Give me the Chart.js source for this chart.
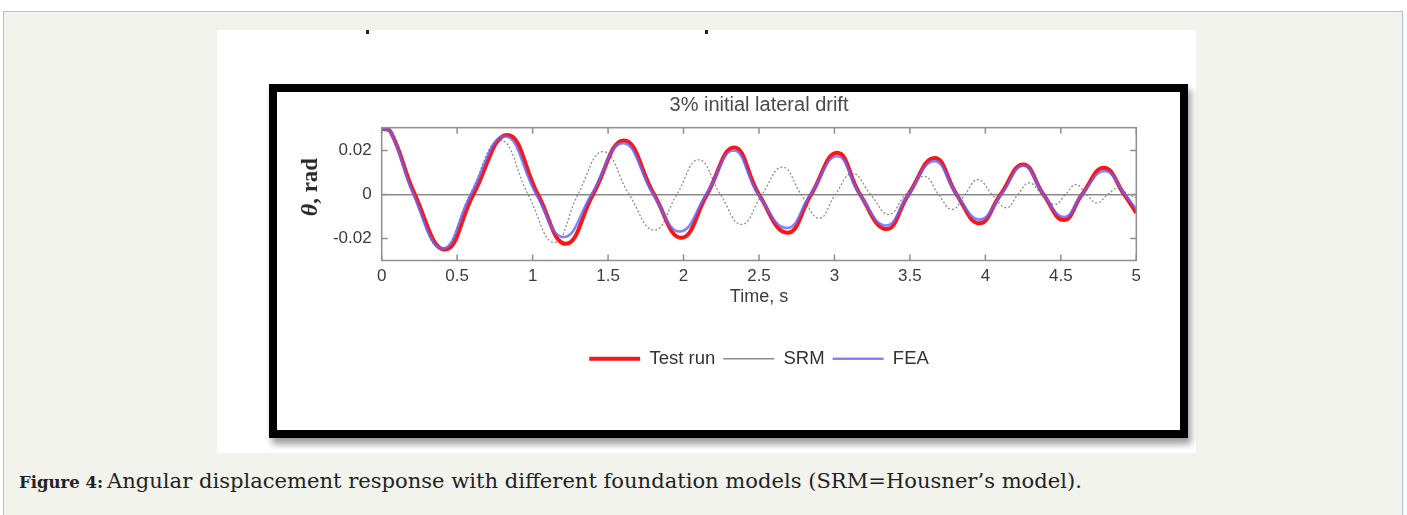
<!DOCTYPE html>
<html>
<head>
<meta charset="utf-8">
<script src="https://cdn.jsdelivr.net/npm/chart.js@4.4.1/dist/chart.umd.min.js"></script>
<style>
  html, body { margin:0; padding:0; background:#ffffff; width:1407px; height:515px; overflow:hidden; }
  #panel { position:absolute; left:3px; top:11px; width:1398px; height:520px; background:#f3f3ee;
           border:1px solid #a8c3e6; border-bottom:none; }
  #pic { position:absolute; left:217px; top:30px; width:979px; height:423px; background:#ffffff; }
  #frame { position:absolute; left:269px; top:84px; width:903px; height:338px; border:8px solid #000;
           box-shadow: 3px 6px 7px rgba(0,0,0,0.4); background:#fff; }
  .dot { position:absolute; top:30px; width:3px; height:4px; background:#222; }
  #wrap { position:absolute; left:277px; top:92px; width:964px; height:338px; }
  #cap { position:absolute; left:19px; top:470px; color:#222; white-space:nowrap; line-height:22px; }
  #cap b { font-family:"DejaVu Serif", serif; font-weight:bold; font-size:16.5px; }
  #capText { font-family:"DejaVu Serif", serif; font-size:16px; }
</style>
</head>
<body>
<div id="panel"></div>
<div id="pic"></div>
<div class="dot" style="left:366px"></div>
<div class="dot" style="left:705px"></div>
<div id="frame"></div>
<div id="wrap"><canvas id="c" width="964" height="338"></canvas></div>
<div id="cap"><b>Figure 4:</b> <span id="capText">Angular displacement response with different foundation models (SRM=Housner’s model).</span></div>
<script>
// ---- data ----
const testTime = [0, 0.06, 0.22, 0.419, 0.607, 0.832, 1.035, 1.22, 1.40, 1.605, 1.805, 1.985, 2.155, 2.335, 2.50, 2.688, 2.845, 3.018, 3.17, 3.344, 3.49, 3.664, 3.81, 3.96, 4.10, 4.25, 4.385, 4.52, 4.64, 4.785, 4.92, 5.0];
const testRun  = [0.030, 0.0285, 0, -0.0250, 0, 0.0271, 0, -0.0224, 0, 0.0246, 0, -0.0197, 0, 0.0214, 0, -0.0174, 0, 0.0190, 0, -0.0157, 0, 0.0166, 0, -0.0131, 0, 0.0137, 0, -0.0116, 0, 0.0122, 0, -0.0083];

const srmTime = [0, 0.06, 0.21, 0.40, 0.585, 0.785, 0.97, 1.145, 1.30, 1.468, 1.64, 1.805, 1.955, 2.10, 2.245, 2.384, 2.52, 2.655, 2.78, 2.90, 3.005, 3.12, 3.24, 3.36, 3.47, 3.595, 3.69, 3.78, 3.865, 3.95, 4.045, 4.14, 4.215, 4.29, 4.375, 4.46, 4.53, 4.60, 4.67, 4.74, 4.81, 4.88, 4.95, 5.0];
const srm      = [0.030, 0.0285, 0, -0.0250, 0, 0.0247, 0, -0.0218, 0, 0.0195, 0, -0.0162, 0, 0.0158, 0, -0.0136, 0, 0.0125, 0, -0.0108, 0, 0.0096, 0, -0.0090, 0, 0.0083, 0, -0.0068, 0, 0.0068, 0, -0.0060, 0, 0.0053, 0, -0.0045, 0, 0.0045, 0, -0.0038, 0, 0.0030, 0, -0.0015];

const feaTime = [0, 0.06, 0.21, 0.405, 0.59, 0.815, 1.025, 1.205, 1.39, 1.598, 1.80, 1.975, 2.15, 2.332, 2.495, 2.685, 2.84, 3.018, 3.168, 3.342, 3.488, 3.662, 3.81, 3.962, 4.105, 4.252, 4.385, 4.522, 4.64, 4.79, 4.925, 5.0];
const fea      = [0.030, 0.0285, 0, -0.0246, 0, 0.0265, 0, -0.0193, 0, 0.0234, 0, -0.0168, 0, 0.0200, 0, -0.0152, 0, 0.0174, 0, -0.0141, 0, 0.0152, 0, -0.0114, 0, 0.0131, 0, -0.0102, 0, 0.0107, 0, -0.0068];

const xTickValues = [0, 0.5, 1, 1.5, 2, 2.5, 3, 3.5, 4, 4.5, 5];
const xTickLabels = ['0', '0.5', '1', '1.5', '2', '2.5', '3', '3.5', '4', '4.5', '5'];
const yTickValues = [-0.02, 0, 0.02];
const yTickLabels = ['-0.02', '0', '0.02'];
const seriesNames = ['Test run', 'SRM', 'FEA'];
const yTitleSymbol = 'θ';
const yTitleRest = ', rad';

// fit caption text width to the reference span
(function () {
  const s = document.getElementById('capText');
  const w = s.getBoundingClientRect().width;
  if (w > 0) s.style.fontSize = (16 * 975 / w).toFixed(2) + 'px';
})();

const toPts = (ts, vs) => ts.map((t, i) => ({ x: t, y: vs[i] }));

const matlabBox = {
  id: 'matlabBox',
  afterDatasetsDraw(chart) {
    const { ctx, chartArea: a, scales } = chart;
    ctx.save();
    ctx.strokeStyle = '#8f8f8f';
    ctx.lineWidth = 1.5;
    ctx.strokeRect(a.left, a.top, a.right - a.left, a.bottom - a.top);
    ctx.beginPath();
    xTickValues.forEach(v => {
      const px = scales.x.getPixelForValue(v);
      ctx.moveTo(px, a.bottom); ctx.lineTo(px, a.bottom - 6);
      ctx.moveTo(px, a.top); ctx.lineTo(px, a.top + 6);
    });
    yTickValues.forEach(v => {
      const py = scales.y.getPixelForValue(v);
      ctx.moveTo(a.left, py); ctx.lineTo(a.left + 6, py);
      ctx.moveTo(a.right, py); ctx.lineTo(a.right - 6, py);
    });
    ctx.stroke();
    ctx.restore();
  },
  afterDraw(chart) {
    // y-axis title with an italic theta and upright ", rad"
    const { ctx, chartArea: a } = chart;
    const fSym = "italic bold 24px 'Liberation Serif', 'Times New Roman', serif";
    const fRest = "bold 23px 'Liberation Serif', 'Times New Roman', serif";
    ctx.save();
    ctx.font = fSym; const w1 = ctx.measureText(yTitleSymbol).width;
    ctx.font = fRest; const w2 = ctx.measureText(yTitleRest).width;
    ctx.translate(34, (a.top + a.bottom) / 2 - 7);
    ctx.rotate(-Math.PI / 2);
    ctx.fillStyle = '#2a2a2a';
    ctx.textBaseline = 'middle';
    ctx.textAlign = 'left';
    const x0 = -(w1 + w2) / 2;
    ctx.font = fSym; ctx.fillText(yTitleSymbol, x0, 0);
    ctx.font = fRest; ctx.fillText(yTitleRest, x0 + w1, 0);
    ctx.restore();
  }
};

const sans = "'Liberation Sans', Arial, sans-serif";

new Chart(document.getElementById('c'), {
  type: 'line',
  data: {
    datasets: [
      { label: seriesNames[0], data: toPts(testTime, testRun), borderColor: '#ff1414', borderWidth: 4,
        pointRadius: 0, tension: 0.45, order: 1 },
      { label: seriesNames[1], data: toPts(srmTime, srm), borderColor: '#8c8c8c', borderWidth: 1.3,
        borderDash: [2, 2], pointRadius: 0, tension: 0.45, order: 2 },
      { label: seriesNames[2], data: toPts(feaTime, fea), borderColor: 'rgba(100,100,255,0.8)', borderWidth: 2.6,
        pointRadius: 0, tension: 0.45, order: 0 }
    ]
  },
  options: {
    responsive: false,
    animation: false,
    events: [],
    layout: { padding: { left: 0, right: 0, top: 0, bottom: 52 } },
    plugins: {
      tooltip: { enabled: false },
      title: { display: true, text: '3% initial lateral drift', color: '#4a4a4a',
               font: { family: sans, size: 20, weight: 'normal' }, padding: { top: 1.8, bottom: 9.9 } },
      legend: {
        position: 'bottom',
        labels: {
          usePointStyle: true, pointStyle: 'line', pointStyleWidth: 51, padding: 8,
          color: '#333', font: { family: sans, size: 18.5 },
          sort: (a, b) => a.datasetIndex - b.datasetIndex
        }
      }
    },
    scales: {
      x: {
        type: 'linear', min: 0, max: 5,
        afterBuildTicks: s => { s.ticks = xTickValues.map(v => ({ value: v })); },
        afterFit: s => { s.height = 81; },
        ticks: { autoSkip: false, maxRotation: 0, padding: 6, color: '#3c3c3c',
                 font: { family: sans, size: 17 },
                 callback: (v, i) => xTickLabels[i] },
        grid: { display: false, drawTicks: false },
        border: { display: false },
        title: { display: true, text: 'Time, s', color: '#3c3c3c',
                 font: { family: sans, size: 18 }, padding: { top: 0, bottom: 33.2 } }
      },
      y: {
        type: 'linear', position: 'left', min: -0.030, max: 0.0304,
        afterBuildTicks: s => { s.ticks = yTickValues.map(v => ({ value: v })); },
        afterFit: s => { s.width = 104.7; },
        ticks: { padding: 10, color: '#3c3c3c', font: { family: sans, size: 17 },
                 callback: (v, i) => yTickLabels[i] },
        grid: { drawTicks: false, lineWidth: 1.6,
                color: c => (c.tick && c.tick.value === 0) ? '#8a8a8a' : 'rgba(0,0,0,0)' },
        border: { display: false },
        title: { display: false }
      },
      y2: {
        type: 'linear', position: 'right', min: -0.030, max: 0.0304, display: true,
        afterFit: s => { s.width = 104.7; },
        ticks: { display: false }, grid: { display: false, drawTicks: false }, border: { display: false }
      }
    }
  },
  plugins: [matlabBox]
});
</script>
</body>
</html>
